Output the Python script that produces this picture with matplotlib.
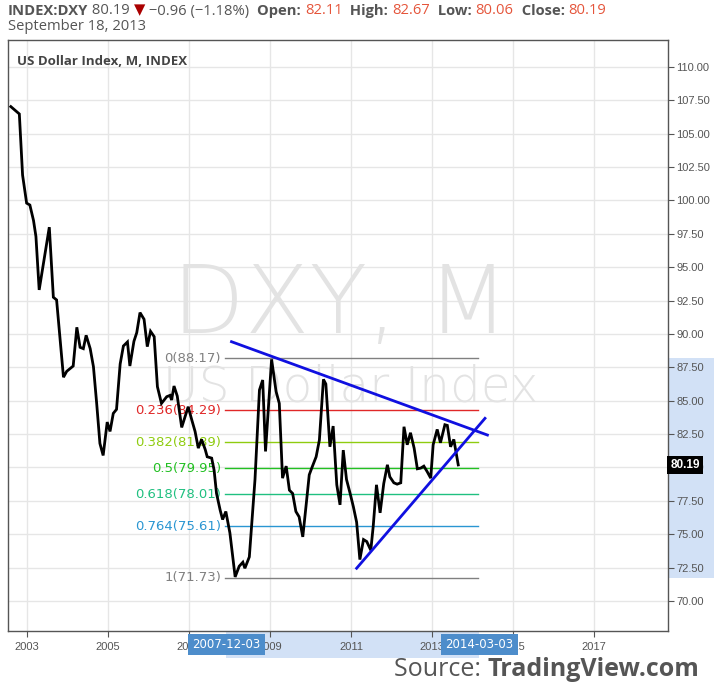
import matplotlib
matplotlib.use("Agg")
import matplotlib.pyplot as plt
from matplotlib.patches import Rectangle

# ---------------- data ----------------
dates = [2002.60, 2002.81, 2002.89, 2002.99, 2003.07, 2003.16, 2003.22, 2003.30, 2003.55, 2003.65,
         2003.73, 2003.90, 2003.98, 2004.14, 2004.23, 2004.31, 2004.39, 2004.46, 2004.56, 2004.64,
         2004.72, 2004.80, 2004.88, 2004.98, 2005.05, 2005.13, 2005.21, 2005.30, 2005.38, 2005.48,
         2005.54, 2005.64, 2005.71, 2005.79, 2005.89, 2005.97, 2006.05, 2006.14, 2006.22, 2006.32,
         2006.45, 2006.53, 2006.57, 2006.63, 2006.71, 2006.82, 2006.98, 2007.07, 2007.15, 2007.23,
         2007.31, 2007.40, 2007.45, 2007.56, 2007.62, 2007.68, 2007.77, 2007.83, 2007.91, 2008.01,
         2008.14, 2008.24, 2008.33, 2008.38, 2008.49, 2008.63, 2008.74, 2008.82, 2008.89, 2009.04,
         2009.15, 2009.23, 2009.31, 2009.40, 2009.48, 2009.56, 2009.64, 2009.72, 2009.81, 2009.89,
         2009.97, 2010.05, 2010.14, 2010.22, 2010.32, 2010.38, 2010.48, 2010.56, 2010.65, 2010.73,
         2010.81, 2010.89, 2010.98, 2011.06, 2011.14, 2011.22, 2011.31, 2011.39, 2011.49, 2011.55,
         2011.63, 2011.72, 2011.81, 2011.90, 2011.96, 2012.06, 2012.14, 2012.23, 2012.31, 2012.39,
         2012.47, 2012.56, 2012.64, 2012.72, 2012.80, 2012.88, 2012.97, 2013.03, 2013.13, 2013.21,
         2013.32, 2013.38, 2013.46, 2013.54, 2013.65]
values = [107.03, 106.48, 101.90, 99.80, 99.66, 98.50, 97.30, 93.30, 98.00, 92.75,
          92.55, 86.76, 87.20, 87.60, 90.50, 89.00, 88.90, 89.90, 88.90, 87.55,
          84.80, 81.80, 80.90, 83.40, 82.70, 84.05, 84.35, 87.75, 89.10, 89.40,
          87.60, 89.45, 90.10, 91.60, 91.10, 89.05, 90.20, 89.80, 86.05, 84.80,
          85.30, 85.40, 85.05, 86.10, 85.35, 83.00, 84.55, 83.55, 82.70, 81.45,
          82.10, 81.35, 80.80, 80.70, 79.80, 78.05, 76.80, 76.10, 76.70, 75.10,
          71.80, 72.60, 72.90, 72.45, 73.30, 79.10, 85.80, 86.55, 81.20, 88.10,
          85.70, 84.80, 79.20, 80.10, 78.30, 78.05, 76.70, 76.30, 74.80, 77.10,
          79.45, 80.10, 80.80, 82.05, 86.60, 86.25, 81.55, 83.10, 78.70, 77.20,
          81.30, 79.10, 78.05, 77.05, 75.90, 73.10, 74.60, 74.45, 73.80, 75.60,
          78.70, 76.60, 78.80, 80.20, 79.30, 78.85, 78.75, 78.85, 83.05, 81.70,
          82.60, 81.45, 79.90, 79.95, 80.10, 79.70, 79.20, 81.70, 82.85, 81.85,
          83.20, 83.15, 81.55, 82.10, 80.19]

fib_ratios = ["0", "0.236", "0.382", "0.5", "0.618", "0.764", "1"]
fib_levels = [88.17, 84.29, 81.89, 79.95, 78.01, 75.61, 71.73]
fib_colors = ["#808080", "#e02828", "#8fcc10", "#22c022", "#20c080", "#2a96d2", "#808080"]
fib_span = [2007.89, 2014.14]

upper_trend_x = [2008.05, 2014.37]
upper_trend_y = [89.42, 82.43]
lower_trend_x = [2011.14, 2014.31]
lower_trend_y = [72.45, 83.68]

range_start_label = "2007-12-03"
range_end_label = "2014-03-03"
range_dates = [2007.92, 2014.17]

year_ticks = [2003, 2005, 2007, 2009, 2011, 2013, 2015, 2017]
price_ticks = [70.0, 72.5, 75.0, 77.5, 80.0, 82.5, 85.0, 87.5, 90.0, 92.5,
               95.0, 97.5, 100.0, 102.5, 105.0, 107.5, 110.0]
last_price = 80.19

# ---------------- figure ----------------
W, H = 714, 694
fig = plt.figure(figsize=(W / 100, H / 100), dpi=100)
L, R, T, B = 8, 668, 40, 631
ax = fig.add_axes([L / W, 1 - B / H, (R - L) / W, (B - T) / H])
ax.set_xlim(2002.53, 2018.83)
ax.set_ylim(67.75, 112.02)

for s in ax.spines.values():
    s.set_color("#555555")
    s.set_linewidth(1.0)

ax.set_xticks(year_ticks)
ax.set_xticklabels([str(y) for y in year_ticks])
ax.set_yticks(price_ticks)
ax.set_yticklabels(["%.2f" % v for v in price_ticks])
ax.yaxis.tick_right()
ax.tick_params(axis="both", colors="#555555", labelsize=8, length=4, width=0.8,
               labelcolor="#555555")
ax.tick_params(axis="y", pad=2)
ax.tick_params(axis="x", pad=4)
for lab in ax.get_xticklabels() + ax.get_yticklabels():
    lab.set_family("Liberation Sans")
ax.grid(True, color="#e6e6e6", linewidth=1.0, zorder=0)
ax.set_axisbelow(True)

# watermark
ax.text(0.503, 0.5042, "DXY, M", transform=ax.transAxes, fontsize=68, color="#e3e3e3",
        ha="center", va="baseline", family="DejaVu Sans", fontweight="light", zorder=1)
ax.text(0.519, 0.3875, "US Dollar Index", transform=ax.transAxes, fontsize=35, color="#e3e3e3",
        ha="center", va="baseline", family="DejaVu Sans Condensed", fontweight="light", zorder=1)

# fib levels
for r, lv, c in zip(fib_ratios, fib_levels, fib_colors):
    ax.plot(fib_span, [lv, lv], color=c, linewidth=1.0, zorder=2)
    ax.text(fib_span[0] - 0.1, lv, "%s(%.2f)" % (r, lv), color=c, fontsize=9.5,
            ha="right", va="center", family="DejaVu Sans", zorder=2)

# price line
ax.plot(dates, values, color="black", linewidth=2.0, zorder=4, solid_joinstyle="miter")

# trend lines
ax.plot(upper_trend_x, upper_trend_y, color="#1010e0", linewidth=2.0, zorder=5)
ax.plot(lower_trend_x, lower_trend_y, color="#1010e0", linewidth=2.0, zorder=5)

# label inside
ax.text(0.0136, 0.975, "US Dollar Index, M, INDEX", transform=ax.transAxes, fontsize=9.5,
        color="#444444", fontweight="bold", ha="left", va="top", family="Open Sans")

# x range highlight under axis
xa = ax.get_xaxis_transform()
ax.add_patch(Rectangle((range_dates[0], -0.0455), range_dates[1] - range_dates[0], 0.0455,
                       transform=xa, facecolor="#d2e1f6", edgecolor="none",
                       clip_on=False, zorder=-1))
for d, lab in zip(range_dates, [range_start_label, range_end_label]):
    ax.text(d, -0.0225, lab, transform=xa, fontsize=8.5, color="white", ha="center",
            va="center", family="Liberation Sans Narrow", zorder=10, clip_on=False,
            bbox=dict(boxstyle="square,pad=0.35", facecolor="#4d8dcb", edgecolor="none"))

# y range highlight right of axis
ya = ax.get_yaxis_transform()
ax.add_patch(Rectangle((1.0, fib_levels[-1]), 46 / (R - L), fib_levels[0] - fib_levels[-1],
                       transform=ya, facecolor="#d2e1f6", edgecolor="none",
                       clip_on=False, zorder=-1))
ax.text(1.0035, last_price, "%.2f" % last_price, transform=ya, fontsize=8.5, color="white",
        fontweight="bold", ha="left", va="center", family="Liberation Sans", clip_on=False,
        zorder=10, bbox=dict(boxstyle="square,pad=0.25", facecolor="black", edgecolor="none"))

# header text chained
fig.canvas.draw()
renderer = fig.canvas.get_renderer()
pieces = [("INDEX:DXY", "bold", "#555555"), (" 80.19 ", "normal", "#555555"),
          ("\u25BC", "normal", "#aa0000"), (" \u22120.96 (\u22121.18%)  ", "normal", "#555555"),
          ("Open: ", "bold", "#555555"), ("82.11", "normal", "#e5553b"),
          ("  High: ", "bold", "#555555"), ("82.67", "normal", "#e5553b"),
          ("  Low: ", "bold", "#555555"), ("80.06", "normal", "#e5553b"),
          ("  Close: ", "bold", "#555555"), ("80.19", "normal", "#e5553b")]
x = 8 / W
for txt, w, c in pieces:
    t = fig.text(x, 1 - 11 / H, txt, fontsize=10.6, fontweight=w, color=c, ha="left",
                 va="center", family=["Open Sans", "DejaVu Sans"])
    bb = t.get_window_extent(renderer)
    x += bb.width / W
fig.text(8 / W, 1 - 27 / H, "September 18, 2013", fontsize=10.6, color="#555555", ha="left",
         va="center", family="Open Sans")

# source
t2 = fig.text(699 / W, 1 - 676 / H, "TradingView.com", fontsize=18, fontweight="bold",
              color="#555555", ha="right", va="baseline", family="Open Sans")
bb2 = t2.get_window_extent(renderer)
fig.text(bb2.x0 / W, 1 - 676 / H, "Source: ", fontsize=18, color="#555555", ha="right",
         va="baseline", family="Open Sans")

fig.savefig("out.png", dpi=100, facecolor="white")
